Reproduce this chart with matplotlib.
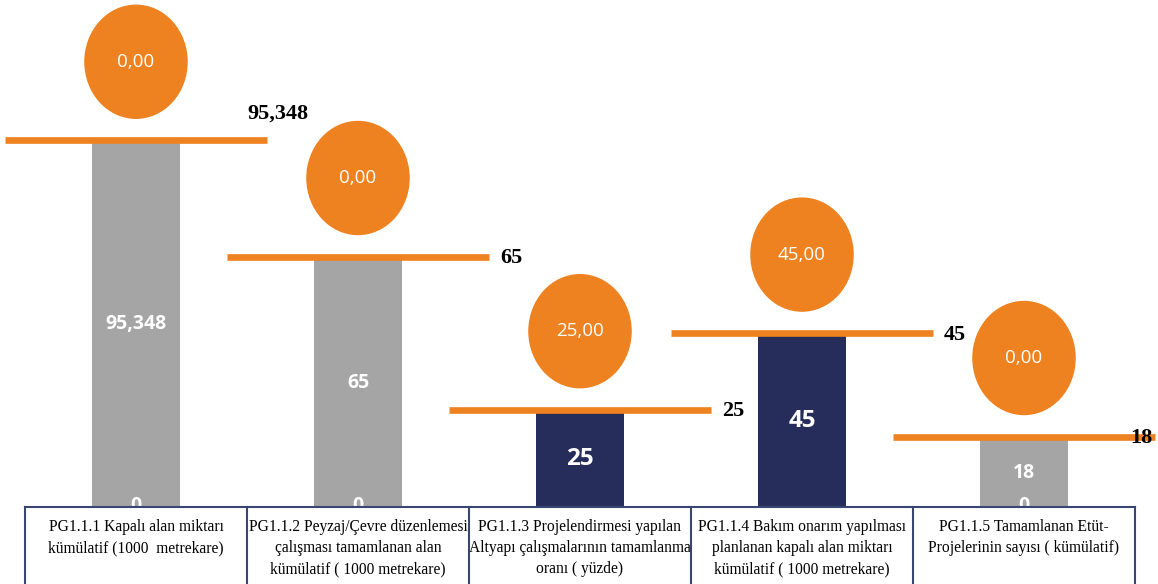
import matplotlib.pyplot as plt
from matplotlib.patches import Ellipse

_orange = "#EE8220"
_gray = "#A5A5A5"
_navy = "#262D5A"
_border = "#3B4670"

categories = [
    "PG1.1.1 Kapalı alan miktarı\nkümülatif (1000  metrekare)",
    "PG1.1.2 Peyzaj/Çevre düzenlemesi\nçalışması tamamlanan alan\nkümülatif ( 1000 metrekare)",
    "PG1.1.3 Projelendirmesi yapılan\nAltyapı çalışmalarının tamamlanma\noranı ( yüzde)",
    "PG1.1.4 Bakım onarım yapılması\nplanlanan kapalı alan miktarı\nkümülatif ( 1000 metrekare)",
    "PG1.1.5 Tamamlanan Etüt-\nProjelerinin sayısı ( kümülatif)",
]
actual = [95.348, 65, 25, 45, 18]
target = [95.348, 65, 25, 45, 18]
realization = [0.00, 0.00, 25.00, 45.00, 0.00]
base = [0, 0, 0, 0, 0]
bar_colors = [_gray, _gray, _navy, _navy, _gray]


def fmt(v):
    return f"{v:g}".replace(".", ",")


###############################################################################

W, H = 1158, 584
px_per_unit = 3.83
base_px = 507

fig = plt.figure(figsize=(W / 100, H / 100), dpi=100)
ax = fig.add_axes([25 / W, 1 - base_px / H, (1135 - 25) / W, base_px / H])
ax.set_xlim(-0.5, 4.5)
ax.set_ylim(0, base_px / px_per_unit)
ax.axis("off")

x = list(range(len(categories)))
ax.bar(x, actual, width=0.40, color=bar_colors, zorder=2)

# target lines + labels
label_off = [(-0.09, 7.3), (0.05, 0.0), (0.05, 0.0), (0.05, 0.0), (-0.11, 0.0)]
for i, t in enumerate(target):
    ax.plot([i - 0.59, i + 0.59], [t + 0.35, t + 0.35], color=_orange, lw=4.8,
            solid_capstyle="butt", clip_on=False, zorder=3)
    dx, dy = label_off[i]
    ax.text(i + 0.59 + dx, t + dy, fmt(t), ha="left", va="center",
            fontsize=16, fontweight="bold", family="Liberation Serif",
            color="black", zorder=5)

# realization circles
for i, (t, r) in enumerate(zip(target, realization)):
    ax.add_patch(Ellipse((i, t + 20.9), 0.46, 29.5, color=_orange, zorder=4,
                         clip_on=False))
    ax.text(i, t + 20.9, f"{r:.2f}".replace(".", ","), ha="center", va="center",
            fontsize=13.5, color="white", family="Open Sans", zorder=5)

# bar values
for i, v in enumerate(actual):
    big = bar_colors[i] == _navy
    ax.text(i, v / 2, fmt(v), ha="center", va="center", color="white",
            fontsize=17.5 if big else 14, fontweight="bold", family="Open Sans",
            zorder=5)
    if not big:
        ax.text(i, base[i] + 0.3, fmt(base[i]), ha="center", va="center",
                color="white", fontsize=14, fontweight="bold",
                family="Open Sans", zorder=5)

# category table
low = -(H - base_px) / px_per_unit - 1
ax.plot([-0.5, 4.5], [0, 0], color=_border, lw=1.5, clip_on=False, zorder=6)
for b in [-0.5, 0.5, 1.5, 2.5, 3.5, 4.5]:
    ax.plot([b, b], [0, low], color=_border, lw=1.5, clip_on=False, zorder=6)
for i, c in enumerate(categories):
    ax.text(i, -3.2, c, ha="center", va="top", fontsize=11.2,
            family="Liberation Serif", linespacing=1.42, color="black")

fig.savefig("out.png", dpi=100)
